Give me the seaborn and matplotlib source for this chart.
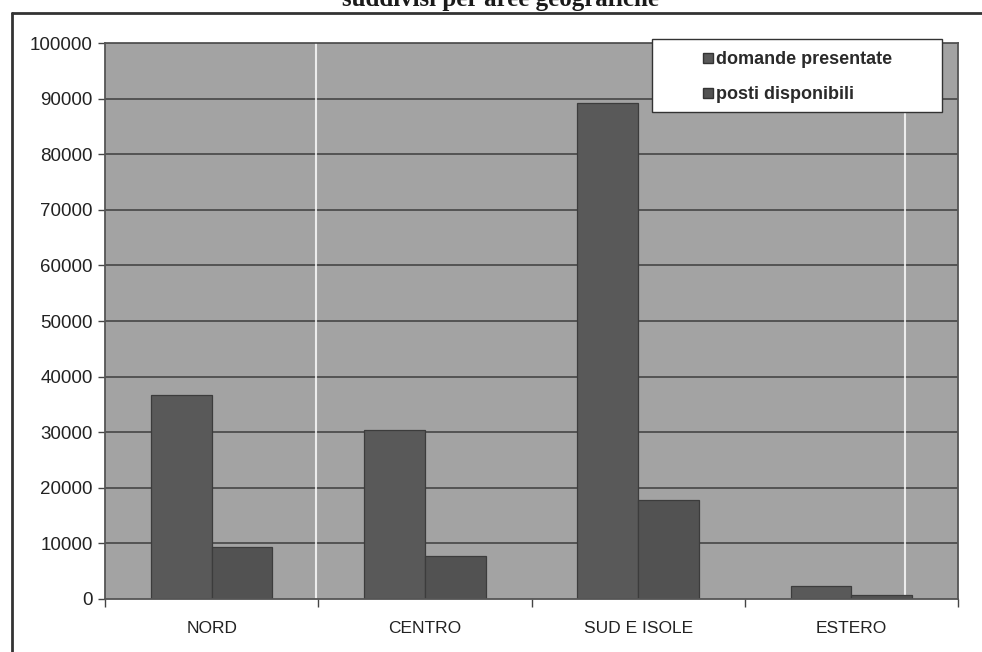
import numpy as np
import pandas as pd
import matplotlib
matplotlib.use("Agg")
import matplotlib.pyplot as plt
from matplotlib.lines import Line2D
from matplotlib.patches import Rectangle
import seaborn as sns

# Data
aree = ["NORD", "CENTRO", "SUD E ISOLE", "ESTERO"]
domande = [36700, 30400, 89300, 2400]
posti = [9400, 7800, 17800, 800]
serie = ["domande presentate", "posti disponibili"]
colori = ["#595959", "#525252"]
yticks = list(range(0, 100001, 10000))

df = pd.DataFrame({
    "area": aree * 2,
    "valore": domande + posti,
    "serie": [serie[0]] * len(aree) + [serie[1]] * len(aree),
})

sns.set_theme(style="white")
plt.rcParams["font.family"] = ["Liberation Sans", "DejaVu Sans"]

fig = plt.figure(figsize=(9.82, 6.52), dpi=100)
ax = fig.add_axes([0.107, 0.0813, 0.8686, 0.8527])
ax.set_facecolor("#a3a3a3")

# horizontal gridlines behind bars
for v in yticks[1:]:
    ax.axhline(v, color="#4d4d4d", lw=1.3, zorder=0)

# scan artefacts: faint white vertical streaks
ax.axvline(0.49, color="white", lw=1.5, alpha=0.8, zorder=0.5)
ax.axvline(3.25, color="white", lw=1.5, alpha=0.8, zorder=0.5)

sns.barplot(data=df, x="area", y="valore", hue="serie", palette=colori,
            width=0.57, saturation=1, edgecolor="#3c3c3c", linewidth=0.9,
            legend=False, ax=ax, zorder=2)

ax.set_ylim(0, 100000)
ax.set_xlim(-0.5, len(aree) - 0.5)
ax.set_yticks(yticks)
ax.set_yticklabels([str(t) for t in yticks], fontsize=13.5, color="#222222")
ax.set_xticklabels(aree, fontsize=12.5, color="#222222")
ax.set_xlabel("")
ax.set_ylabel("")
ax.tick_params(axis="y", which="major", length=5, width=1, color="#444444",
               direction="out", pad=4, left=True)
ax.tick_params(axis="x", which="major", length=0, pad=16)
ax.set_xticks(np.arange(-0.5, len(aree)), minor=True)
ax.tick_params(axis="x", which="minor", length=6, width=1, color="#444444",
               direction="out", bottom=True)

for s in ax.spines.values():
    s.set_color("#555555")
    s.set_linewidth(1.3)

# legend: white box plus frameless entries
box = Rectangle((0.641, 0.876), 0.340, 0.131, transform=ax.transAxes,
                facecolor="white", edgecolor="#333333", linewidth=1.0,
                zorder=4, clip_on=False)
ax.add_patch(box)
handles = [Line2D([0], [0], marker="s", linestyle="none", markersize=7,
                  markerfacecolor=c, markeredgecolor="#333333")
           for c in colori]
leg = ax.legend(handles, serie, loc="upper left", bbox_to_anchor=(0.701, 0.985),
                borderaxespad=0, borderpad=0, frameon=False,
                handlelength=0.55, handletextpad=0.17, labelspacing=0.98,
                prop={"family": "Liberation Sans", "weight": "bold", "size": 13})
leg.set_zorder(5)
for t in leg.get_texts():
    t.set_color("#2a2a2a")

# clipped title at the top
fig.text(0.51, 1 - 6 / 652, "suddivisi per aree geografiche", ha="center",
         va="baseline", fontsize=18, fontweight="bold",
         family=["Liberation Serif", "DejaVu Serif"], color="#1a1a1a")

# outer frame (top and left)
fig.add_artist(Line2D([12 / 982, 1], [1 - 13 / 652, 1 - 13 / 652],
                      color="#333333", lw=2, transform=fig.transFigure))
fig.add_artist(Line2D([12 / 982, 12 / 982], [0, 1 - 13 / 652],
                      color="#333333", lw=2, transform=fig.transFigure))

fig.savefig("out.png", dpi=100, facecolor="white")
